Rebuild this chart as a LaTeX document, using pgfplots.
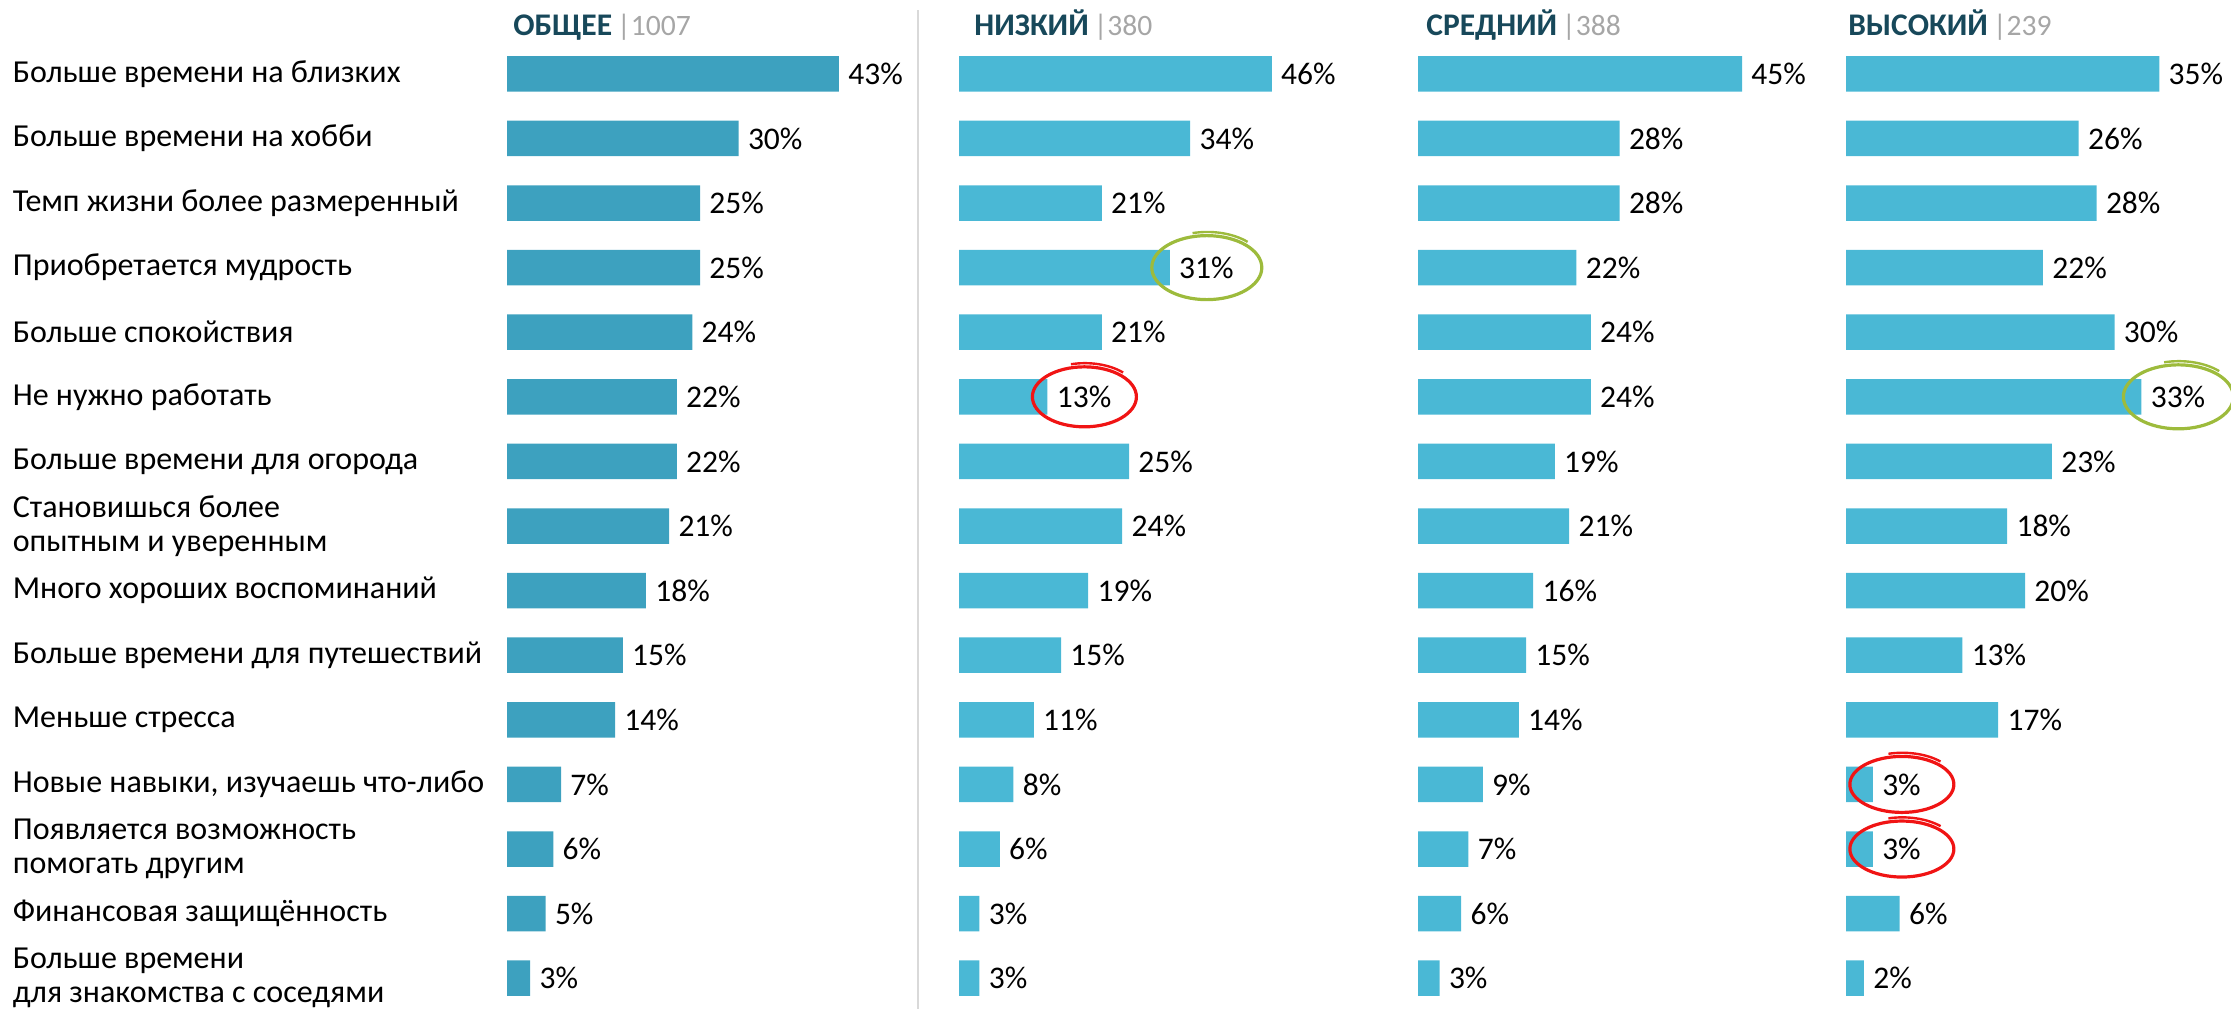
\documentclass[border=0pt]{standalone}
\usepackage{fontspec}
\setmainfont{Carlito}
\usepackage{pgfplots}
\pgfplotsset{compat=1.18}
\definecolor{barA}{HTML}{3DA1BF}
\definecolor{barB}{HTML}{4AB8D5}
\definecolor{titlec}{HTML}{17485A}
\definecolor{numc}{HTML}{A6A6A6}
\definecolor{sepc}{HTML}{D9D9D9}
\definecolor{markg}{HTML}{9DBB3C}
\definecolor{markr}{HTML}{F01414}
\newcommand\lab{\fontsize{15.75pt}{17pt}\selectfont}
\newcommand\catlab{\fontsize{16pt}{17pt}\selectfont}
\newcommand\hcirc[5]{%
  \draw[#1, line width=1.6pt] ([xshift=#3]#2) ellipse [x radius=#4, y radius=#5];
  \draw[#1, line width=1.2pt] ([xshift=#3, yshift=1.8pt]#2) ++(105:#4 and #5) arc [start angle=105, end angle=45, x radius=#4+1pt, y radius=#5+1pt];
}
\pgfplotsset{
 panel/.style={
   xbar, scale only axis, y=32.3pt, y dir=reverse,
   xmin=0, xmax=50, ymin=0.5, ymax=15.5,
   axis line style={draw=none}, tick style={draw=none},
   xtick=\empty, ytick=\empty, clip=false,
   bar width=17.75pt,
   /pgf/number format/assume math mode=true,
   nodes near coords={\pgfmathprintnumber{\pgfplotspointmeta}\%},
   nodes near coords style={font=\lab, anchor=west, inner sep=0pt, xshift=4.5pt, text=black},
   anchor=north west,
 }
}
\newcommand\ttl[2]{{\lab\bfseries\color{titlec}#1}\hspace{2.5pt}{\fontsize{14.8pt}{16pt}\selectfont\color{numc}|#2}}
\begin{document}
\begin{tikzpicture}
\useasboundingbox (0,0) rectangle (1115.5pt,-504.5pt);
\draw[sepc, line width=0.6pt] (459pt,-5pt) -- (459pt,-504.5pt);
\node[anchor=base west, inner sep=0pt] at (256.5pt,-17.5pt) {\ttl{ОБЩЕЕ}{1007}};
\node[anchor=base west, inner sep=0pt] at (487pt,-17.5pt) {\ttl{НИЗКИЙ}{380}};
\node[anchor=base west, inner sep=0pt] at (713pt,-17.5pt) {\ttl{СРЕДНИЙ}{388}};
\node[anchor=base west, inner sep=0pt] at (924pt,-17.5pt) {\ttl{ВЫСОКИЙ}{239}};

% Panel 1
\begin{axis}[panel, x=3.86pt, at={(253.5pt,-20.75pt)},
  ytick={1,...,15},
  yticklabels={Больше времени на близких, Больше времени на хобби, Темп жизни более размеренный, Приобретается мудрость, Больше спокойствия, Не нужно работать, Больше времени для огорода, {Становишься более\\опытным и уверенным}, Много хороших воспоминаний, Больше времени для путешествий, Меньше стресса, {Новые навыки, изучаешь что-либо}, {Появляется возможность\\помогать другим}, Финансовая защищённость, {Больше времени\\для знакомства с соседями}},
  yticklabel style={font=\catlab, anchor=west, align=left, inner sep=0pt, xshift=-243pt}]
\addplot[fill=barA, draw=none] coordinates {(43,1) (30,2) (25,3) (25,4) (24,5) (22,6) (22,7) (21,8) (18,9) (15,10) (14,11) (7,12) (6,13) (5,14) (3,15)};
\end{axis}

% Panel 2
\begin{axis}[panel, x=3.4pt, at={(479.5pt,-20.75pt)}]
\addplot[fill=barB, draw=none] coordinates {(46,1) (34,2) (21,3) (31,4) (21,5) (13,6) (25,7) (24,8) (19,9) (15,10) (11,11) (8,12) (6,13) (3,14) (3,15)};
\hcirc{markg}{axis cs:31,4}{18.5pt}{27.5pt}{16pt}
\hcirc{markr}{axis cs:13,6}{18.5pt}{26pt}{15pt}
\end{axis}

% Panel 3
\begin{axis}[panel, x=3.6pt, at={(709pt,-20.75pt)}]
\addplot[fill=barB, draw=none] coordinates {(45,1) (28,2) (28,3) (22,4) (24,5) (24,6) (19,7) (21,8) (16,9) (15,10) (14,11) (9,12) (7,13) (6,14) (3,15)};
\end{axis}

% Panel 4
\begin{axis}[panel, x=4.475pt, at={(923pt,-20.75pt)}]
\addplot[fill=barB, draw=none] coordinates {(35,1) (26,2) (28,3) (22,4) (30,5) (33,6) (23,7) (18,8) (20,9) (13,10) (17,11) (3,12) (3,13) (6,14) (2,15)};
\hcirc{markg}{axis cs:33,6}{18.5pt}{27.5pt}{16pt}
\hcirc{markr}{axis cs:3,12}{14.5pt}{26pt}{14pt}
\hcirc{markr}{axis cs:3,13}{14.5pt}{26pt}{14pt}
\end{axis}
\end{tikzpicture}
\end{document}
